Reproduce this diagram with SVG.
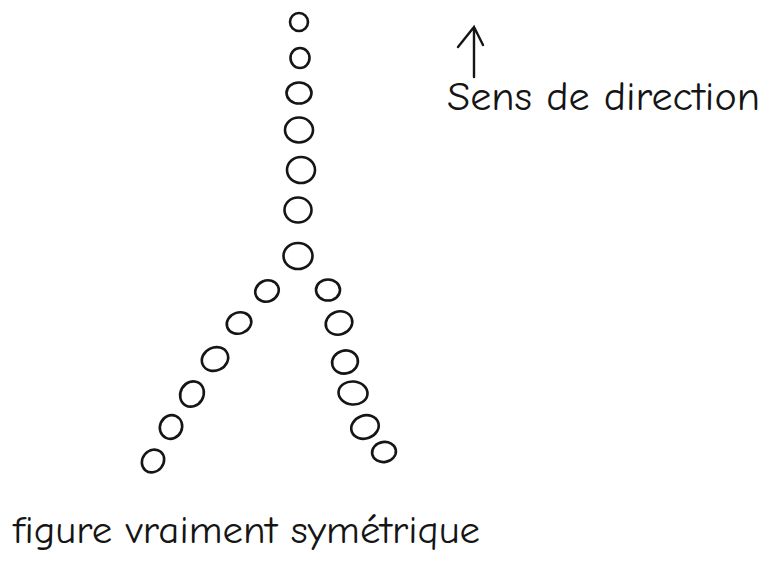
<svg xmlns="http://www.w3.org/2000/svg" width="767" height="561" viewBox="0 0 767 561">
<style>
.c{fill:none;stroke:#151515;stroke-width:2.6}
.t{font-family:"Comic Neue","DejaVu Sans","Liberation Sans",sans-serif;fill:#151515;font-weight:normal}
.a{fill:none;stroke:#151515;stroke-width:2.4;stroke-linecap:round}
</style>
<rect width="767" height="561" fill="#fff"/>
<g id="trunk">
<ellipse class="c" cx="299" cy="22" rx="9" ry="9"/>
<ellipse class="c" cx="300" cy="58" rx="9.5" ry="10"/>
<ellipse class="c" cx="299" cy="93" rx="12.5" ry="10.5"/>
<ellipse class="c" cx="299" cy="130" rx="14" ry="12.5"/>
<ellipse class="c" cx="301" cy="170" rx="14" ry="13"/>
<ellipse class="c" cx="298" cy="210" rx="13.5" ry="12.5"/>
<ellipse class="c" cx="298" cy="256" rx="14.5" ry="13"/>
</g>
<g id="left-arm">
<ellipse class="c" cx="267" cy="291" rx="12" ry="10.5" transform="rotate(-25 267 291)"/>
<ellipse class="c" cx="239" cy="323" rx="12.5" ry="10.5" transform="rotate(-20 239 323)"/>
<ellipse class="c" cx="215" cy="359" rx="13.5" ry="11.5" transform="rotate(-25 215 359)"/>
<ellipse class="c" cx="192" cy="394" rx="11.5" ry="13" transform="rotate(30 192 394)"/>
<ellipse class="c" cx="171" cy="427" rx="11" ry="12" transform="rotate(25 171 427)"/>
<ellipse class="c" cx="153" cy="461" rx="10.5" ry="12" transform="rotate(40 153 461)"/>
</g>
<g id="right-arm">
<ellipse class="c" cx="328" cy="290" rx="12" ry="10.5"/>
<ellipse class="c" cx="339" cy="323" rx="13.5" ry="11.5" transform="rotate(-20 339 323)"/>
<ellipse class="c" cx="345" cy="362" rx="13" ry="11.5" transform="rotate(-15 345 362)"/>
<ellipse class="c" cx="353" cy="393" rx="14.5" ry="11.5" transform="rotate(5 353 393)"/>
<ellipse class="c" cx="365" cy="427" rx="14" ry="11.5" transform="rotate(-20 365 427)"/>
<ellipse class="c" cx="384" cy="452" rx="12" ry="10" transform="rotate(-10 384 452)"/>
</g>
<g id="direction">
<path class="a" d="M474 27 L474 77 M458 47 L474 27 L483 45"/>
<text class="t" x="447" y="110" font-size="40" textLength="313" lengthAdjust="spacingAndGlyphs">Sens de direction</text>
</g>
<g id="caption">
<text class="t" x="13" y="543" font-size="38" textLength="467" lengthAdjust="spacingAndGlyphs">figure vraiment symétrique</text>
</g>
</svg>
